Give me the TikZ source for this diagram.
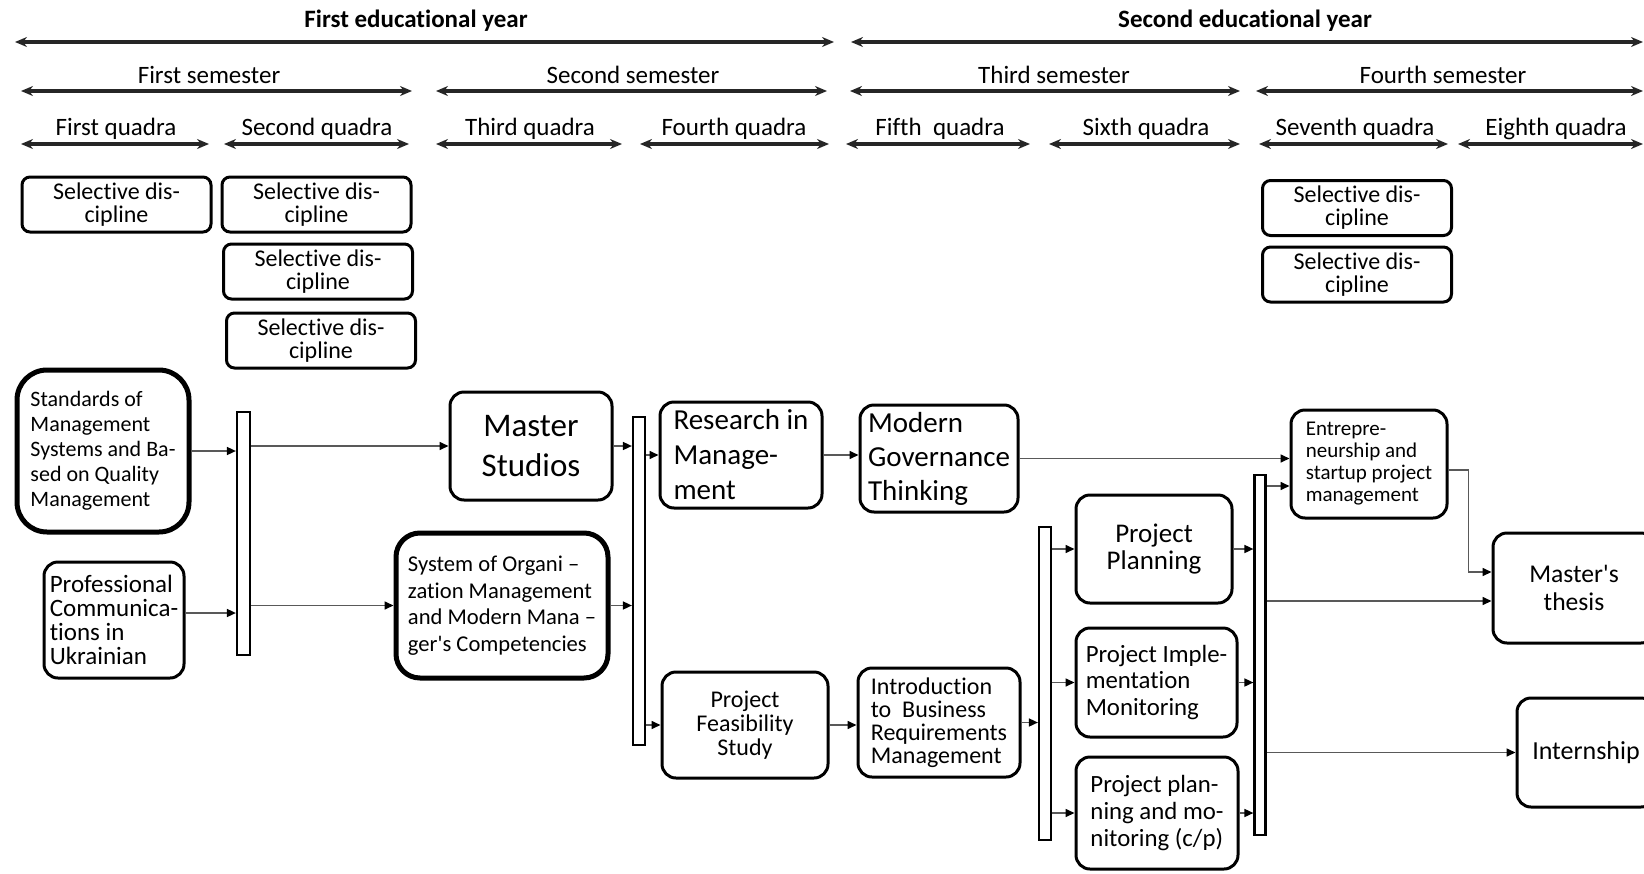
\documentclass[tikz,border=0pt]{standalone}
\usepackage{fontspec}
\setmainfont{Carlito}[Ligatures={TeX,NoCommon}]
\usetikzlibrary{positioning, arrows.meta}
\newcommand{\tightlines}{\lineskiplimit=-10pt\relax}

\begin{document}
\begin{tikzpicture}[
    x=0.5pt, y=-0.5pt,
    yearhead/.style={font=\bfseries\fontsize{12.5}{14}\selectfont},
    head/.style={font=\fontsize{12.5}{14}\selectfont},
    span/.style={draw=black!85, line width=1.6pt, {Stealth[length=6pt,width=5pt]}-{Stealth[length=6pt,width=5pt]}},
    box/.style={draw=black, line width=1.5pt, rounded corners=7pt, inner sep=2pt},
    selbox/.style={box, rounded corners=4pt, minimum width=94.5pt, minimum height=27.5pt, align=center, font=\fontsize{12}{11.5}\selectfont\tightlines},
    bar/.style={draw=black, line width=1.1pt, fill=white, inner sep=0pt},
    conn/.style={draw=black!65, line width=0.8pt, -{Triangle[length=4.5pt,width=4pt,color=black]}}
]
\useasboundingbox (0,0) rectangle (1644,873);
\clip (0,0) rectangle (1644,873);

% Years
\node[yearhead] (year1) at (416,21) {First educational year};
\node[yearhead] (year2) at (1245,21) {Second educational year};
\coordinate (y1l) at (15,42);   \coordinate (y1r) at (834,42);
\coordinate (y2l) at (851,42);  \coordinate (y2r) at (1643,42);
\draw[span] (y1l) -- (y1r);
\draw[span] (y2l) -- (y2r);

% Semesters
\node[head] (sem1) at (209,75) {First semester};
\node[head] (sem2) at (633,75) {Second semester};
\node[head] (sem3) at (1054,75) {Third semester};
\node[head] (sem4) at (1443,75) {Fourth semester};
\coordinate (s1l) at (21,91);   \coordinate (s1r) at (412,91);
\coordinate (s2l) at (436,91);  \coordinate (s2r) at (827,91);
\coordinate (s3l) at (850,91);  \coordinate (s3r) at (1240,91);
\coordinate (s4l) at (1256,91); \coordinate (s4r) at (1643,91);
\draw[span] (s1l) -- (s1r);
\draw[span] (s2l) -- (s2r);
\draw[span] (s3l) -- (s3r);
\draw[span] (s4l) -- (s4r);

% Quadras
\node[head] (q1) at (116,129) {First quadra};
\node[head] (q2) at (317,129) {Second quadra};
\node[head] (q3) at (530,129) {Third quadra};
\node[head] (q4) at (734,129) {Fourth quadra};
\node[head] (q5) at (940,129) {Fifth\ \ quadra};
\node[head] (q6) at (1146,129) {Sixth quadra};
\node[head] (q7) at (1355,129) {Seventh quadra};
\node[head] (q8) at (1556,129) {Eighth quadra};
\coordinate (q1l) at (21,144);   \coordinate (q1r) at (209,144);
\coordinate (q2l) at (224,144);  \coordinate (q2r) at (409,144);
\coordinate (q3l) at (436,144);  \coordinate (q3r) at (622,144);
\coordinate (q4l) at (640,144);  \coordinate (q4r) at (829,144);
\coordinate (q5l) at (846,144);  \coordinate (q5r) at (1030,144);
\coordinate (q6l) at (1049,144); \coordinate (q6r) at (1240,144);
\coordinate (q7l) at (1259,144); \coordinate (q7r) at (1448,144);
\coordinate (q8l) at (1458,144); \coordinate (q8r) at (1643,144);
\draw[span] (q1l) -- (q1r);
\draw[span] (q2l) -- (q2r);
\draw[span] (q3l) -- (q3r);
\draw[span] (q4l) -- (q4r);
\draw[span] (q5l) -- (q5r);
\draw[span] (q6l) -- (q6r);
\draw[span] (q7l) -- (q7r);
\draw[span] (q8l) -- (q8r);

% Selective disciplines
\node[selbox] (sel1) at (116.5,204.5) {Selective dis-\\cipline};
\node[selbox] (sel2) at (316.5,204.5) {Selective dis-\\cipline};
\node[selbox] (sel3) at (318,271.5) {Selective dis-\\cipline};
\node[selbox] (sel4) at (321,340.5) {Selective dis-\\cipline};
\node[selbox] (sel5) at (1357,208) {Selective dis-\\cipline};
\node[selbox] (sel6) at (1357,274.5) {Selective dis-\\cipline};

% Disciplines
\node[box, line width=2.5pt, rounded corners=15pt, minimum width=86pt, minimum height=81pt, align=left, font=\fontsize{11}{12.5}\selectfont] (standards) at (103,451) {Standards of\\Management\\Systems and Ba-\\sed on Quality\\Management};
\node[box, minimum width=70pt, minimum height=58pt, align=left, font=\fontsize{12.5}{12}\selectfont\tightlines] (profcomm) at (114,620) {Professional\\Communica-\\tions in\\Ukrainian};
\node[box, minimum width=81pt, minimum height=54pt, align=center, font=\fontsize{16.5}{20}\selectfont] (studios) at (531,446) {Master\\Studios};
\node[box, line width=2.5pt, rounded corners=12pt, minimum width=106pt, minimum height=72.5pt, align=left, font=\fontsize{11.3}{13.3}\selectfont] (orgsys) at (502,605.5) {System of Organi --\\zation Management\\and Modern Mana --\\ger\textquotesingle s Competencies};
\node[box, minimum width=81pt, minimum height=53pt, align=left, font=\fontsize{14.5}{17.5}\selectfont] (research) at (741,455) {Research in\\Manage-\\ment};
\node[box, minimum width=83pt, minimum height=53pt, align=center, font=\fontsize{12}{12}\selectfont\tightlines] (feasibility) at (745,725) {Project\\Feasibility\\Study};
\node[box, minimum width=79pt, minimum height=53.5pt, align=left, font=\fontsize{14.5}{17}\selectfont] (governance) at (939,458.5) {Modern\\Governance\\Thinking};
\node[box, minimum width=81pt, minimum height=54.5pt, align=left, font=\fontsize{12}{11.5}\selectfont\tightlines] (bizreq) at (939,722.5) {Introduction\\to\ \ Business\\Requirements\\Management};
\node[box, minimum width=78pt, minimum height=54pt, align=center, font=\fontsize{13.5}{13.5}\selectfont\tightlines] (planning) at (1154,549) {Project\\Planning};
\node[box, minimum width=80.5pt, minimum height=54.5pt, align=left, font=\fontsize{12.4}{13.3}\selectfont] (monitoring) at (1156.5,682.5) {Project Imple-\\mentation\\Monitoring};
\node[box, minimum width=81pt, minimum height=56pt, align=left, font=\fontsize{12.4}{13.3}\selectfont] (planmon) at (1157,813) {Project plan-\\ning and mo-\\nitoring (c/p)};
\node[box, minimum width=78pt, minimum height=54pt, align=left, font=\fontsize{10.5}{11}\selectfont\tightlines] (startup) at (1369,464) {Entrepre-\\neurship and\\startup project\\management};
\node[box, minimum width=81pt, minimum height=55pt, align=center, font=\fontsize{12.8}{14}\selectfont] (thesis) at (1574,588) {Master\textquotesingle s\\thesis};
\node[box, minimum width=69pt, minimum height=54.5pt, align=center, font=\fontsize{13}{14}\selectfont] (internship) at (1586,752.5) {Internship};

% Bars
\node[bar, minimum width=6.5pt, minimum height=121.5pt] (bar1) at (243.5,533.5) {};
\node[bar, minimum width=6pt, minimum height=164pt] (bar2) at (639,581) {};
\node[bar, minimum width=6pt, minimum height=156.5pt] (bar3) at (1045,683.5) {};
\node[bar, minimum width=5.5pt, minimum height=180pt] (bar4) at (1260,655) {};

% Paths
\draw[conn] (standards.east) -- (standards.east -| bar1.west);
\coordinate (profout) at ([yshift=3.5pt]profcomm.east);
\draw[conn] (profout) -- (profout -| bar1.west);
\draw[conn] (studios.west -| bar1.east) -- (studios.west);
\draw[conn] (orgsys.west -| bar1.east) -- (orgsys.west);
\draw[conn] (studios.east) -- (studios.east -| bar2.west);
\draw[conn] (orgsys.east) -- (orgsys.east -| bar2.west);
\draw[conn] (research.west -| bar2.east) -- (research.west);
\draw[conn] (feasibility.west -| bar2.east) -- (feasibility.west);
\draw[conn] (research.east) -- (research.east -| governance.west);
\draw[conn] (feasibility.east) -- (feasibility.east -| bizreq.west);
\draw[conn] (bizreq.east) -- (bizreq.east -| bar3.west);
\draw[conn] (planning.west -| bar3.east) -- (planning.west);
\draw[conn] (monitoring.west -| bar3.east) -- (monitoring.west);
\draw[conn] (planmon.west -| bar3.east) -- (planmon.west);
\draw[conn] (planning.east) -- (planning.east -| bar4.west);
\draw[conn] (monitoring.east) -- (monitoring.east -| bar4.west);
\draw[conn] (planmon.east) -- (planmon.east -| bar4.west);
\draw[conn] (governance.east) -- (governance.east -| startup.west);
\coordinate (startupin) at ([yshift=-11pt]startup.west);
\draw[conn] (bar4.east |- startupin) -- (startupin);
\coordinate (thesisin) at ([yshift=8pt]thesis.west);
\draw[conn] ([yshift=-3pt]startup.east) -- ++(20,0) |- (thesisin);
\coordinate (thesisbar) at ([yshift=-6.5pt]thesis.west);
\draw[conn] (bar4.east |- thesisbar) -- (thesisbar);
\draw[conn] (internship.west -| bar4.east) -- (internship.west);

\end{tikzpicture}
\end{document}
